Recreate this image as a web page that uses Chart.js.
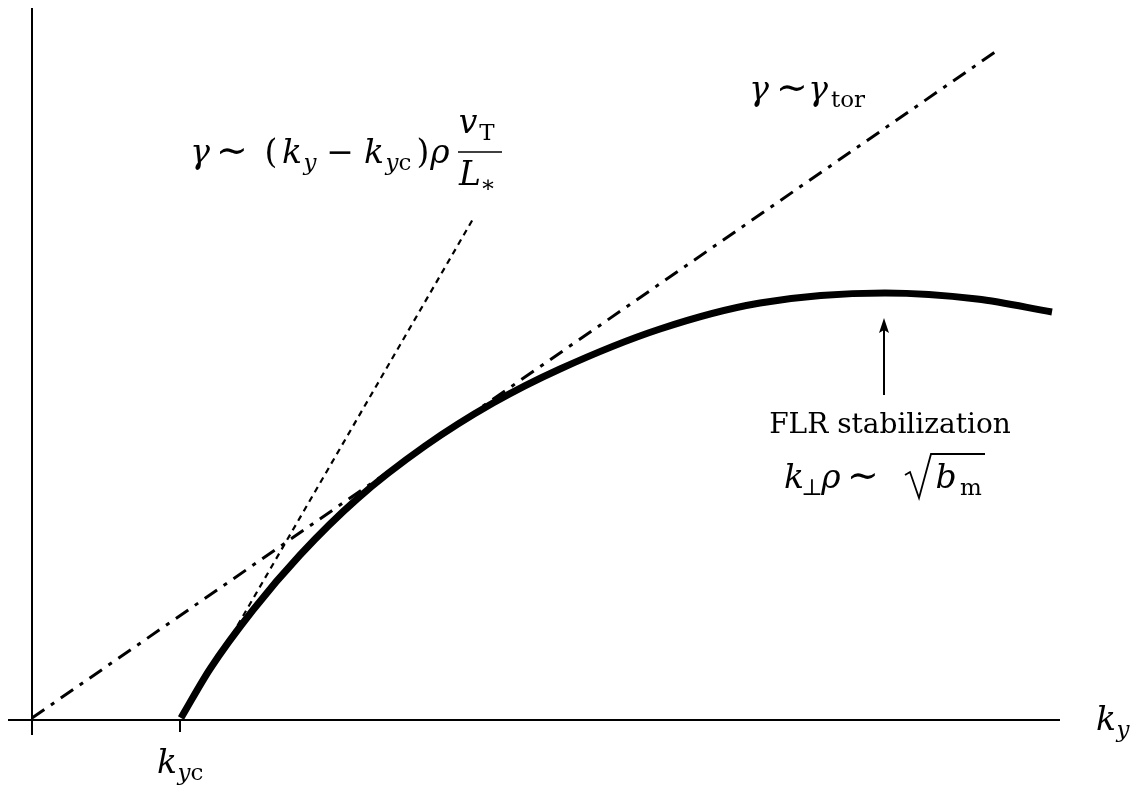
<!DOCTYPE html>
<html lang="en">
<head>
  <meta charset="UTF-8" />
  <title>Growth rate sketch</title>
  <script src="https://cdn.jsdelivr.net/npm/chart.js"></script>
  <style>
    body { margin: 0; padding: 0; background: #fff; }
    #wrap { position: relative; width: 1134px; height: 791px; }
  </style>
</head>
<body>
  <div id="wrap"><canvas id="chart"></canvas></div>

  <script>
    // growth rate curve (k_y, gamma), arbitrary units
    const curveK     = [1.49, 1.78, 2.21, 2.68, 3.25, 3.93, 4.61, 5.28, 6.28, 7.28, 8.53, 9.45, 10.20];
    const curveGamma = [0.02, 0.51, 1.10, 1.65, 2.21, 2.74, 3.17, 3.51, 3.91, 4.17, 4.27, 4.21, 4.08];

    // gamma ~ gamma_tor (dash-dot)
    const torK = [0.00, 9.66];
    const torGamma = [0.02, 6.70];

    // gamma ~ (k_y - k_yc) rho v_T / L_* (dotted)
    const linK = [2.00, 4.41];
    const linGamma = [0.85, 5.01];

    // axes and the k_yc tick
    const kyc = 1.48;
    const xAxisK = [-0.24, 10.28];
    const yAxisGamma = [-0.15, 7.12];

    // FLR arrow
    const arrowK = 8.52;
    const arrowGamma = [3.25, 4.02];

    const toPts = (xs, ys) => xs.map((x, i) => ({ x: x, y: ys[i] }));
    const SERIF = '"DejaVu Serif", "Liberation Serif", serif';
    const SIZE = 33;

    // pieces: {t, it, sub, c} ; "c" = centre of the glyph, x offset from the anchor
    function rich(ctx, x, y, parts, size) {
      ctx.textAlign = 'center';
      parts.forEach(p => {
        let s = p.sub ? size * 0.7 : size;
        let cx = x + p.c;
        if (p.t === '∼') { s = size * 1.15; cx += 2; }   // wider tilde, like the TeX one
        ctx.font = (p.it ? 'italic ' : '') + Math.round(s) + 'px ' + SERIF;
        ctx.fillText(p.t, cx, y + (p.sub ? size * 0.22 : 0));
      });
      ctx.textAlign = 'left';
    }

    const annotations = {
      id: 'annotations',
      afterDatasetsDraw(chart) {
        const ctx = chart.ctx;
        const xs = chart.scales.x, ys = chart.scales.y;
        const X = v => xs.getPixelForValue(v);
        const Y = v => ys.getPixelForValue(v);
        ctx.save();
        ctx.fillStyle = '#000';
        ctx.strokeStyle = '#000';
        ctx.textBaseline = 'alphabetic';

        // arrow
        const ax = X(arrowK), ay0 = Y(arrowGamma[0]), ay1 = Y(arrowGamma[1]);
        ctx.lineWidth = 2;
        ctx.beginPath(); ctx.moveTo(ax, ay0); ctx.lineTo(ax, ay1 + 8); ctx.stroke();
        ctx.beginPath();
        ctx.moveTo(ax, ay1); ctx.lineTo(ax - 5, ay1 + 15); ctx.lineTo(ax, ay1 + 12); ctx.lineTo(ax + 5, ay1 + 15);
        ctx.closePath(); ctx.fill();

        // gamma ~ (k_y - k_yc) rho v_T / L_*
        const l1x = X(1.60), l1y = Y(5.57);
        rich(ctx, l1x, l1y, [
          { t: 'γ', it: true, c: 8 }, { t: '∼', c: 38 }, { t: '(', c: 79 },
          { t: 'k', it: true, c: 100 }, { t: 'y', it: true, sub: true, c: 118 },
          { t: '−', c: 148 }, { t: 'k', it: true, c: 182 }, { t: 'y', it: true, sub: true, c: 200 },
          { t: 'c', sub: true, c: 213 }, { t: ')', c: 231 }, { t: 'ρ', it: true, c: 248 }
        ], SIZE);
        ctx.lineWidth = 1.6;
        ctx.beginPath(); ctx.moveTo(l1x + 266, l1y - 11); ctx.lineTo(l1x + 310, l1y - 11); ctx.stroke();
        rich(ctx, l1x, l1y - 30, [{ t: 'v', it: true, c: 276 }, { t: 'T', sub: true, c: 295 }], SIZE);
        rich(ctx, l1x, l1y + 22, [{ t: 'L', it: true, c: 278 }, { t: '∗', sub: true, c: 296 }], SIZE);

        // gamma ~ gamma_tor
        rich(ctx, X(7.18), Y(6.20), [
          { t: 'γ', it: true, c: 9 }, { t: '∼', c: 40 }, { t: 'γ', it: true, c: 68 },
          { t: 'tor', sub: true, c: 98 }
        ], SIZE);

        // FLR stabilization
        ctx.font = '28px ' + SERIF;
        ctx.textAlign = 'center';
        ctx.fillText('FLR stabilization', X(8.58), Y(2.87));
        ctx.textAlign = 'left';

        // k_perp rho ~ sqrt(b_m)
        const l4x = X(7.53), by = Y(2.32);
        rich(ctx, l4x, by, [
          { t: 'k', it: true, c: 9 }, { t: '⊥', sub: true, c: 27 }, { t: 'ρ', it: true, c: 46 },
          { t: '∼', c: 76 }, { t: 'b', it: true, c: 161 }, { t: 'm', sub: true, c: 186 }
        ], SIZE);
        ctx.lineWidth = 1.8;
        ctx.beginPath();
        ctx.moveTo(l4x + 120, by - 13); ctx.lineTo(l4x + 125, by - 16);
        ctx.lineTo(l4x + 134, by + 10); ctx.lineTo(l4x + 146, by - 34); ctx.lineTo(l4x + 200, by - 34);
        ctx.stroke();

        // axis labels
        rich(ctx, X(10.65), Y(-0.10), [{ t: 'k', it: true, c: 9 }, { t: 'y', it: true, sub: true, c: 26 }], SIZE);
        rich(ctx, X(1.25), Y(-0.53), [
          { t: 'k', it: true, c: 10 }, { t: 'y', it: true, sub: true, c: 27 }, { t: 'c', sub: true, c: 40 }
        ], SIZE);

        ctx.restore();
      }
    };

    const ctx = document.getElementById('chart').getContext('2d');
    new Chart(ctx, {
      type: 'line',
      data: {
        datasets: [
          { data: toPts(xAxisK, [0, 0]), borderColor: '#000', borderWidth: 2 },
          { data: toPts([0, 0], yAxisGamma), borderColor: '#000', borderWidth: 2 },
          { data: toPts([kyc, kyc], [0, -0.12]), borderColor: '#000', borderWidth: 2 },
          { data: toPts(torK, torGamma), borderColor: '#000', borderWidth: 3, borderDash: [15, 8, 4, 8] },
          { data: toPts(linK, linGamma), borderColor: '#000', borderWidth: 2.2, borderDash: [6, 5] },
          { data: toPts(curveK, curveGamma), borderColor: '#000', borderWidth: 7, cubicInterpolationMode: 'monotone' }
        ]
      },
      options: {
        responsive: true,
        maintainAspectRatio: false,
        animation: false,
        layout: { padding: 0 },
        elements: { point: { radius: 0 }, line: { fill: false } },
        scales: {
          x: { type: 'linear', min: -0.32, max: 11.02, display: false },
          y: { type: 'linear', min: -0.71, max: 7.20, display: false }
        },
        plugins: { legend: { display: false }, tooltip: { enabled: false } }
      },
      plugins: [annotations]
    });
  </script>
</body>
</html>
